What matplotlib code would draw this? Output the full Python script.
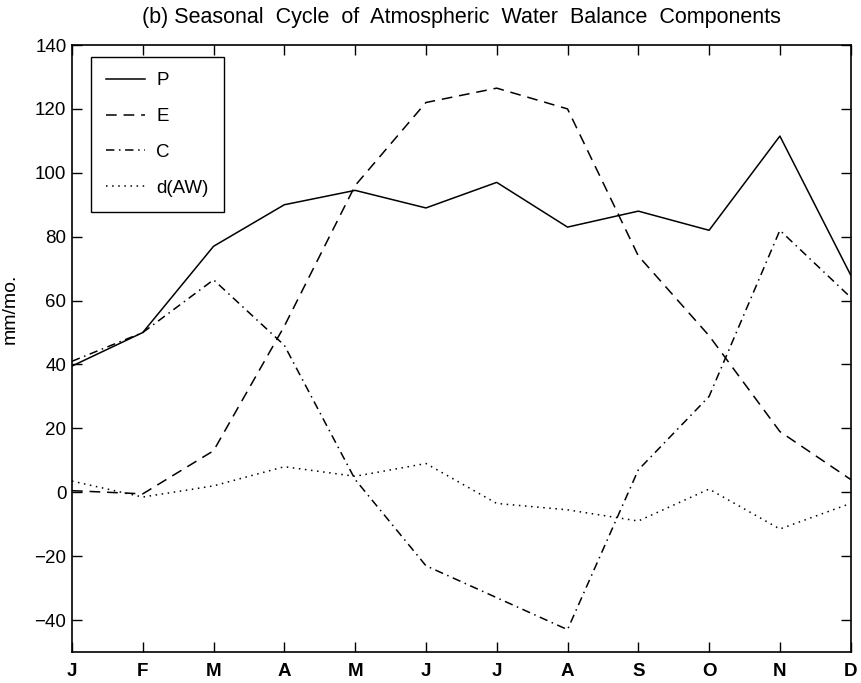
import matplotlib
matplotlib.use("Agg")
import matplotlib.pyplot as plt

plt.rcParams['font.family'] = ['Liberation Sans', 'DejaVu Sans']

months = ['J', 'F', 'M', 'A', 'M', 'J', 'J', 'A', 'S', 'O', 'N', 'D']
P = [39.5, 50, 77, 90, 94.5, 89, 97, 83, 88, 82, 111.5, 68]
E = [0.5, -0.5, 13, 52, 96, 122, 126.5, 120, 74, 49, 19, 4]
C = [41, 50, 66.5, 46, 4, -23, -33, -43, 7, 30, 82, 61]
dAW = [3.5, -1.5, 2, 8, 5, 9, -3.5, -5.5, -9, 1, -11.5, -3.5]

x = list(range(1, 13))

fig = plt.figure(figsize=(8.61, 6.83), dpi=100)
ax = fig.add_axes([0.0836, 0.0454, 0.9044, 0.8887])

lw = 1.1
ax.plot(x, P, color='black', lw=lw, label='P')
ax.plot(x, E, color='black', lw=lw, dashes=(7, 4.5), label='E')
ax.plot(x, C, color='black', lw=lw, dashes=(5.5, 3, 1, 3), label='C')
ax.plot(x, dAW, color='black', lw=lw, dashes=(1, 3), label='d(AW)')

ax.set_xlim(1, 12)
ax.set_ylim(-50, 140)
ax.set_xticks(x)
ax.set_xticklabels(months, fontweight='bold')
ax.set_yticks(range(-40, 141, 20))
ax.tick_params(direction='in', top=True, right=True, labelsize=13.5, length=7, width=1)
ax.tick_params(axis='y', pad=4)
ax.tick_params(axis='x', pad=8)
for s in ax.spines.values():
    s.set_linewidth(1.2)

ax.set_ylabel('mm/mo.', fontsize=14)
ax.yaxis.set_label_coords(-0.069, 0.565)
ax.set_title('(b) Seasonal  Cycle  of  Atmospheric  Water  Balance  Components',
             fontsize=15.5, pad=16)

leg = ax.legend(loc='upper left', bbox_to_anchor=(0.024, 0.98), fontsize=13.5, fancybox=False,
                edgecolor='black', framealpha=1, handlelength=2.1, labelspacing=1.0,
                borderpad=0.8, handletextpad=0.6, borderaxespad=0)
leg.get_frame().set_linewidth(1.0)

fig.savefig('out.png', dpi=100)
